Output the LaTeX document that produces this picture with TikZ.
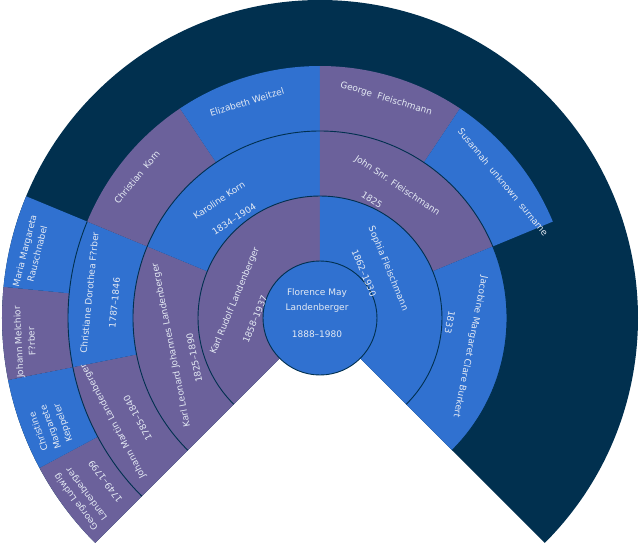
\documentclass[tikz,border=0pt]{standalone}
\usepackage{fontspec}
\usepackage{tikz}
\newfontfamily\fanfont{DejaVu Sans}
\definecolor{fandark}{RGB}{1,48,79}
\definecolor{fanblue}{RGB}{48,113,208}
\definecolor{fanpurple}{RGB}{107,97,155}
\definecolor{fantxt}{RGB}{228,234,244}
\tikzset{
fanline/.style={draw=fandark,line width=0.9pt},
fantext/.style={text=fantxt,inner sep=0pt,align=center,font=\fanfont\fontsize{9}{13}\selectfont},
centertext/.style={fantext,font=\fanfont\fontsize{9}{15}\selectfont}
}

\begin{document}
\begin{tikzpicture}[x=1pt,y=1pt]
\useasboundingbox (-320,-232) rectangle (320,318);
% empty outer rings
\fill[fandark] (0,0) -- (225:318) arc (225:-45:318) -- cycle;
% fourth generation
\fill[fanpurple] (225:252) arc (225:208.125:252) -- (208.125:318) arc (208.125:225:318) -- cycle;
\fill[fanblue] (208.125:252) arc (208.125:191.25:252) -- (191.25:318) arc (191.25:208.125:318) -- cycle;
\fill[fanpurple] (191.25:252) arc (191.25:174.375:252) -- (174.375:318) arc (174.375:191.25:318) -- cycle;
\fill[fanblue] (174.375:252) arc (174.375:157.5:252) -- (157.5:318) arc (157.5:174.375:318) -- cycle;
% third generation
\fill[fanpurple] (225:187) arc (225:191.25:187) -- (191.25:252) arc (191.25:225:252) -- cycle;
\fill[fanblue] (191.25:187) arc (191.25:157.5:187) -- (157.5:252) arc (157.5:191.25:252) -- cycle;
\fill[fanpurple] (157.5:187) arc (157.5:123.75:187) -- (123.75:252) arc (123.75:157.5:252) -- cycle;
\fill[fanblue] (123.75:187) arc (123.75:90:187) -- (90:252) arc (90:123.75:252) -- cycle;
\fill[fanpurple] (90:187) arc (90:56.25:187) -- (56.25:252) arc (56.25:90:252) -- cycle;
\fill[fanblue] (56.25:187) arc (56.25:22.5:187) -- (22.5:252) arc (22.5:56.25:252) -- cycle;
% second generation
\fill[fanpurple] (225:122) arc (225:157.5:122) -- (157.5:187) arc (157.5:225:187) -- cycle;
\fill[fanblue] (157.5:122) arc (157.5:90:122) -- (90:187) arc (90:157.5:187) -- cycle;
\fill[fanpurple] (90:122) arc (90:22.5:122) -- (22.5:187) arc (22.5:90:187) -- cycle;
\fill[fanblue] (22.5:122) arc (22.5:-45:122) -- (-45:187) arc (-45:22.5:187) -- cycle;
% first generation
\fill[fanpurple] (225:57) arc (225:90:57) -- (90:122) arc (90:225:122) -- cycle;
\fill[fanblue] (90:57) arc (90:-45:57) -- (-45:122) arc (-45:90:122) -- cycle;
% centre person
\fill[fanblue] (0,0) circle (57);
\draw[fanline] (0,0) circle (57);
\draw[fanline] (225:122) arc (225:-45:122);
\draw[fanline] (225:187) arc (225:-45:187);
\draw[fanline] (225:252) arc (225:157.5:252);

\node[centertext] (florence) at (-3,17.5) {Florence May\\Landenberger};
\node[fantext] (florencedates) at (-3,-16) {1888–1980};
% parents
\node[fantext,rotate=67.5] (karlrudolf) at (168.7:86.7) {Karl Rudolf Landenberger};
\node[fantext,rotate=67.5] (karlrudolfdates) at (181:65) {1858–1937};
\node[fantext,rotate=-67.5] (sophia) at (36:84) {Sophia Fleischmann};
\node[fantext,rotate=-67.5] (sophiadates) at (45.6:63) {1862–1930};
% grandparents
\node[fantext,rotate=101.25] (karlleonard) at (190.3:151) {Karl Leonard Johannes Landenberger};
\node[fantext,rotate=101.25] (karlleonarddates) at (197.6:132) {1825–1890};
\node[fantext,rotate=33.75] (karoline) at (130.6:155) {Karoline Korn};
\node[fantext,rotate=33.75] (karolinedates) at (131:131) {1834–1904};
\node[fantext,rotate=-33.75] (john) at (59.7:153) {John Snr. Fleischmann};
\node[fantext,rotate=-33.75] (johndates) at (66.2:129) {1825};
\node[fantext,rotate=-101.25] (jacobine) at (-10.9:153) {Jacobine Margaret Clare Burkert};
\node[fantext,rotate=-101.25] (jacobinedates) at (-1.8:130) {1833};
% great-grandparents
\node[fantext,rotate=118.125] (johannmartin) at (206.5:231) {Johann Martin Landenberger};
\node[fantext,rotate=118.125] (johannmartindates) at (208.8:208) {1785–1840};
\node[fantext,rotate=84.375] (christiane) at (173.8:232) {Christiane Dorothea F?rber};
\node[fantext,rotate=84.375] (christianedates) at (175.8:206) {1787–1846};
\node[fantext,rotate=50.625] (christian) at (142.4:231) {Christian\ \ Korn};
\node[fantext,rotate=16.875] (elizabeth) at (108.7:228) {Elizabeth Weitzel};
\node[fantext,rotate=-16.875] (george) at (73.2:229) {George\ \ Fleischmann};
\node[fantext,rotate=-50.625] (susannah) at (36.6:228) {Susannah\ \ unknown\ \ surname};
% great-great-grandparents
\node[fantext,rotate=126.5625] (georgeludwig) at (217:298.5) {George Ludwig\\Landenberger};
\node[fantext,rotate=126.5625] (georgeludwigdates) at (217.3:270) {1749–1799};
\node[fantext,rotate=109.6875] (christine) at (202.1:290) {Christine\\Margarete\\Keppeler};
\node[fantext,rotate=92.8125] (johannmelchior) at (184.6:296) {Johann Melchior\\F?rber};
\node[fantext,rotate=75.9375] (maria) at (167.2:296.5) {Maria Margareta\\Rauschnabel};
\end{tikzpicture}
\end{document}
